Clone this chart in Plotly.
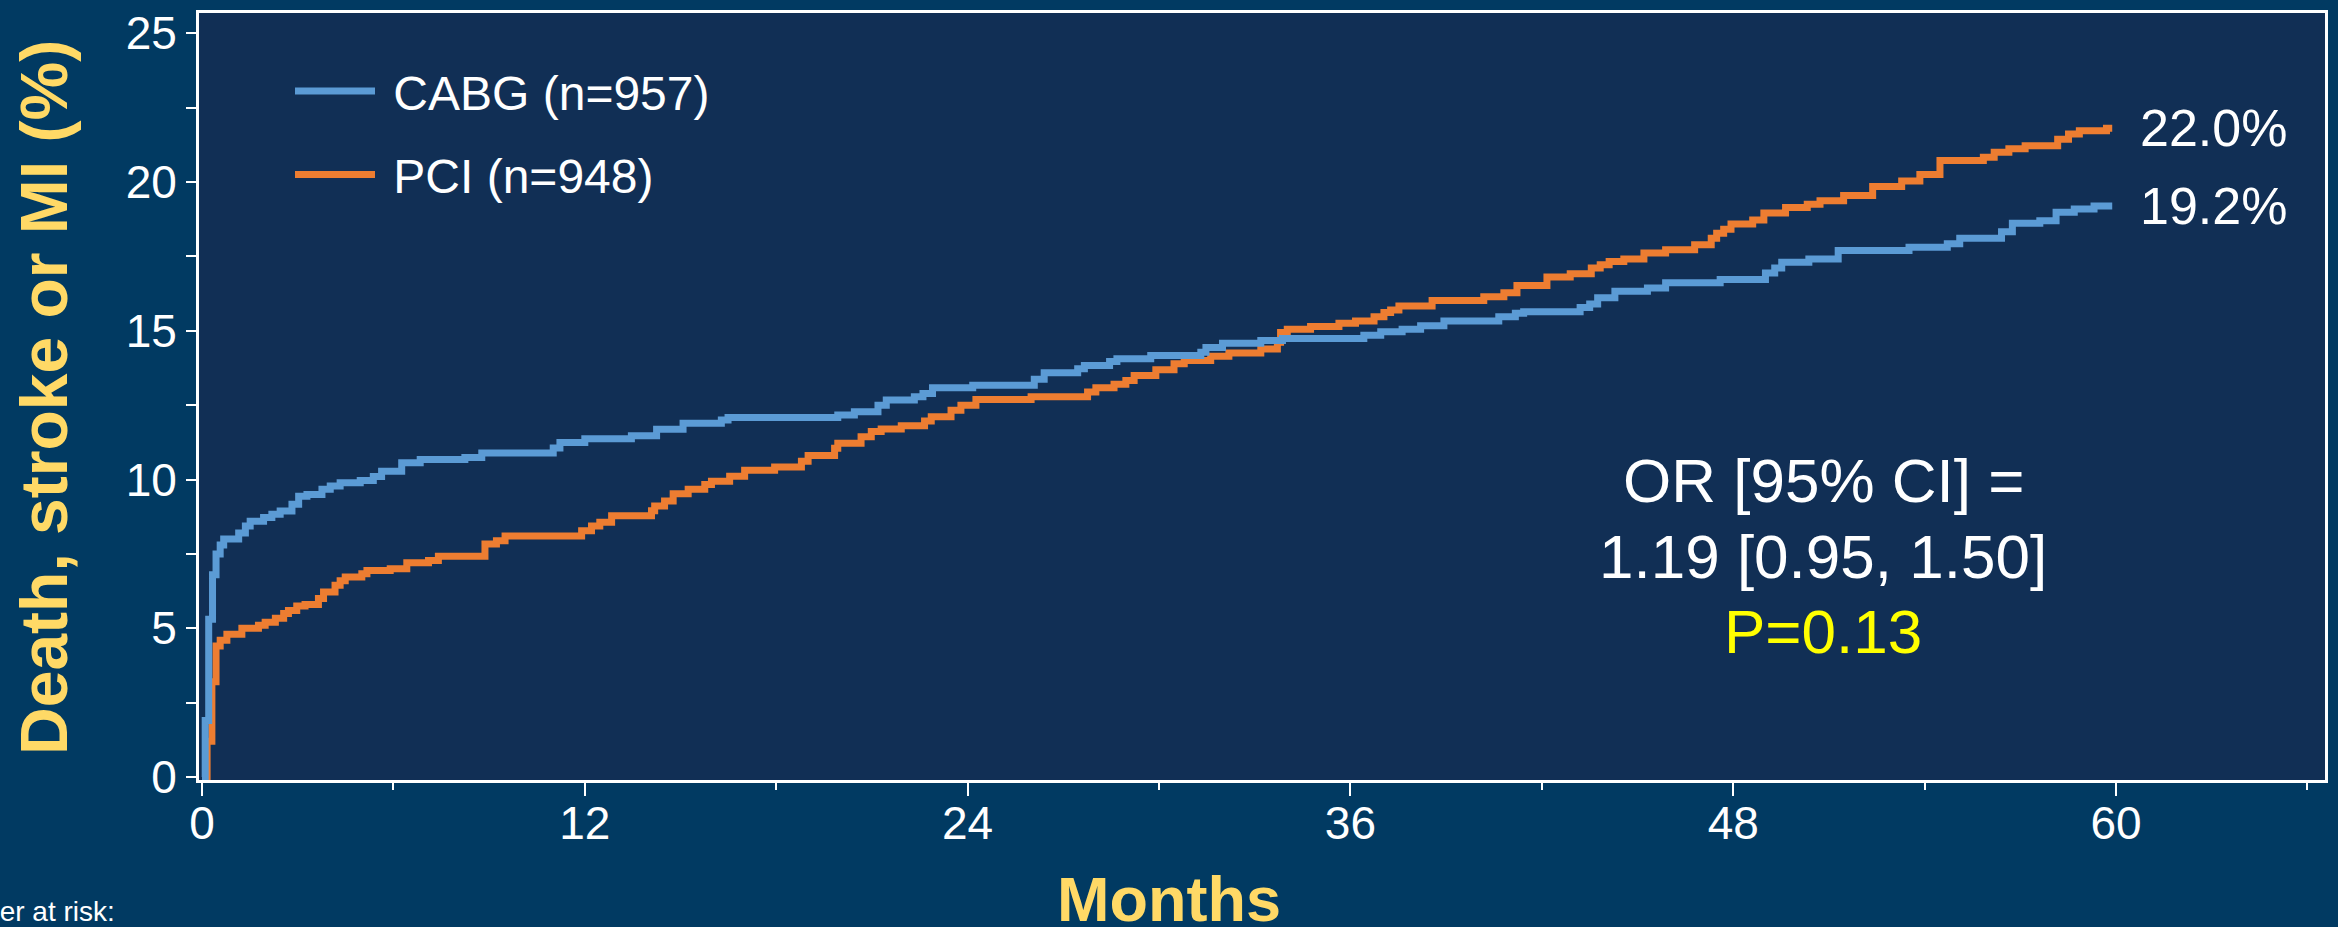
import plotly.graph_objects as go

# ---- data ----
cabg_months = [0, 0.10, 0.21, 0.33, 0.44, 0.57, 0.68, 1.15, 1.36, 1.51, 1.93, 2.19, 2.45, 2.82,
               3.03, 3.29, 3.76, 4.02, 4.33, 4.96, 5.37, 5.63, 6.26, 6.84, 8.24, 8.77, 11.01,
               11.22, 12.0, 13.46, 14.25, 15.08, 16.28, 16.49, 19.93, 20.45, 21.19, 21.45,
               22.33, 22.6, 22.9, 24.16, 26.09, 26.4, 27.45, 27.66, 28.45, 28.68, 29.74, 31.31,
               31.47, 31.99, 33.19, 33.87, 36.42, 36.95, 37.62, 38.2, 38.93, 40.65, 41.17,
               41.43, 43.2, 43.5, 43.75, 44.29, 45.31, 45.88, 47.59, 49.01, 49.3, 49.52, 50.37,
               51.29, 53.51, 54.71, 55.1, 56.41, 56.75, 57.61, 58.12, 58.69, 59.31, 59.88]
cabg_pct = [0, 1.9, 5.3, 6.8, 7.5, 7.8, 8.0, 8.2, 8.44, 8.6, 8.72, 8.83, 8.94, 9.17,
            9.44, 9.5, 9.67, 9.78, 9.89, 9.97, 10.1, 10.28, 10.56, 10.67, 10.74, 10.89, 11.06,
            11.24, 11.37, 11.47, 11.69, 11.89, 12.0, 12.08, 12.17, 12.28, 12.5, 12.67,
            12.78, 12.89, 13.08, 13.17, 13.37, 13.59, 13.72, 13.83, 13.97, 14.06, 14.17, 14.28,
            14.44, 14.58, 14.67, 14.74, 14.85, 14.97, 15.05, 15.17, 15.33, 15.47, 15.59,
            15.64, 15.78, 15.9, 16.11, 16.33, 16.44, 16.61, 16.72, 16.94, 17.11, 17.3, 17.41,
            17.7, 17.81, 17.92, 18.11, 18.33, 18.61, 18.7, 18.98, 19.09, 19.19, 19.19]

pci_months = [0, 0.16, 0.31, 0.44, 0.57, 0.78, 1.25, 1.77, 1.98, 2.30, 2.56, 2.71, 2.97, 3.23,
              3.65, 3.81, 4.17, 4.33, 4.49, 5.01, 5.17, 5.90, 6.42, 7.10, 7.41, 8.87, 9.23,
              9.50, 11.90, 12.21, 12.47, 12.84, 14.09, 14.19, 14.5, 14.77, 15.24, 15.76, 15.97,
              16.54, 17.01, 17.95, 18.79, 19.0, 19.83, 19.93, 20.66, 20.98, 21.29, 21.92, 22.65,
              22.86, 23.48, 23.79, 24.26, 25.99, 27.76, 28.02, 28.59, 28.96, 29.22, 29.9, 30.47,
              30.79, 31.62, 32.19, 33.19, 33.71, 33.81, 34.02, 34.75, 35.64, 36.16, 36.74,
              37.05, 37.26, 37.52, 38.56, 40.18, 40.81, 41.22, 42.16, 42.89, 43.55, 43.83,
              44.11, 44.57, 45.2, 45.88, 46.79, 47.31, 47.48, 47.7, 47.93, 48.61, 48.96, 49.64,
              50.32, 50.72, 51.46, 52.37, 53.28, 53.85, 54.48, 55.84, 56.18, 56.64, 57.15,
              58.17, 58.51, 58.85, 59.7, 59.88]
pci_pct = [0, 1.2, 3.2, 4.4, 4.6, 4.8, 5.0, 5.1, 5.2, 5.34, 5.5, 5.6, 5.75, 5.8,
           6.0, 6.22, 6.45, 6.6, 6.72, 6.83, 6.94, 7.0, 7.2, 7.28, 7.42, 7.83, 7.94,
           8.1, 8.28, 8.44, 8.56, 8.78, 8.95, 9.11, 9.28, 9.52, 9.67, 9.83, 9.94,
           10.11, 10.31, 10.42, 10.61, 10.81, 11.05, 11.22, 11.44, 11.61, 11.7, 11.81, 11.97,
           12.11, 12.33, 12.5, 12.69, 12.78, 12.94, 13.08, 13.2, 13.33, 13.5, 13.69, 13.89,
           14.0, 14.14, 14.25, 14.39, 14.61, 14.94, 15.05, 15.14, 15.25, 15.33, 15.47,
           15.61, 15.7, 15.83, 16.02, 16.14, 16.28, 16.52, 16.81, 16.92, 17.11, 17.22,
           17.33, 17.41, 17.61, 17.72, 17.89, 18.11, 18.28, 18.41, 18.59, 18.72, 18.96, 19.14,
           19.25, 19.37, 19.55, 19.85, 20.03, 20.25, 20.72, 20.83, 21.0, 21.12, 21.22,
           21.44, 21.61, 21.72, 21.81, 21.81]

series_names = ["CABG (n=957)", "PCI (n=948)"]
end_labels = ["19.2%", "22.0%"]
x_tickvals = [0, 12, 24, 36, 48, 60]
y_tickvals = [0, 5, 10, 15, 20, 25]
or_lines = ["OR [95% CI] =", "1.19 [0.95, 1.50]", "P=0.13"]

# ---- style ----
FONT = "Arial, Liberation Sans, sans-serif"
BLUE = "#5B9BD5"
ORANGE = "#ED7D31"
GOLD = "#FFD966"
PAPER = "#013A62"
PLOT = "#112F55"

fig = go.Figure()
fig.add_trace(go.Scatter(x=pci_months, y=pci_pct, mode="lines", name="\u00a0" + series_names[1],
                         line=dict(color=ORANGE, width=7, shape="hv"), legend="legend2"))
fig.add_trace(go.Scatter(x=cabg_months, y=cabg_pct, mode="lines", name="\u00a0" + series_names[0],
                         line=dict(color=BLUE, width=7, shape="hv"), legend="legend"))

W, H = 2338, 927
L, R, T, B = 199, 13, 7, 147
pw, ph = W - L - R, H - T - B

def px(xp):
    return (xp - L) / pw

def py(yp):
    return (H - B - yp) / ph

leg_common = dict(xanchor="left", yanchor="middle", bgcolor="rgba(0,0,0,0)",
                  font=dict(family=FONT, size=48, color="white"), itemwidth=80,
                  borderwidth=0)

fig.update_layout(
    width=W, height=H,
    margin=dict(l=L, r=R, t=T, b=B, pad=0),
    paper_bgcolor=PAPER, plot_bgcolor=PLOT,
    font=dict(family=FONT, color="white"),
    showlegend=True,
    legend=dict(x=px(290), y=py(86), **leg_common),
    legend2=dict(x=px(290), y=py(170), **leg_common),
    xaxis=dict(range=[-0.094, 66.55], tickvals=x_tickvals, ticks="outside", ticklen=13,
               tickwidth=2, tickcolor="white", showline=True, linecolor="white", linewidth=3,
               mirror=True, showgrid=False, zeroline=False, ticklabelstandoff=-12,
               tickfont=dict(family=FONT, size=46, color="white"),
               minor=dict(dtick=6, ticks="outside", ticklen=7, tickwidth=2, tickcolor="white")),
    yaxis=dict(range=[-0.1, 25.68], tickvals=y_tickvals, ticks="outside", ticklen=10,
               tickwidth=2, tickcolor="white", showline=True, linecolor="white", linewidth=3,
               mirror=True, showgrid=False, zeroline=False,
               tickfont=dict(family=FONT, size=46, color="white"),
               minor=dict(dtick=2.5, ticks="outside", ticklen=10, tickwidth=2, tickcolor="white")),
)

ann = []
# axis titles
ann.append(dict(text="<b>Death, stroke or MI (%)</b>", xref="paper", yref="paper",
                x=px(44), y=py(395), xanchor="center", yanchor="middle", textangle=-90,
                showarrow=False, font=dict(family=FONT, size=66, color=GOLD)))
ann.append(dict(text="<b>Months</b>", xref="paper", yref="paper",
                x=px(1169), y=py(900), xanchor="center", yanchor="middle",
                showarrow=False, font=dict(family=FONT, size=63, color=GOLD)))
# end labels
for xs, ys, lab in [(cabg_months, cabg_pct, end_labels[0]), (pci_months, pci_pct, end_labels[1])]:
    ann.append(dict(text=lab, xref="x", yref="y", x=xs[-1], y=ys[-1], xanchor="left",
                    yanchor="middle", xshift=26, showarrow=False,
                    font=dict(family=FONT, size=52, color="white")))
# OR text
for txt, yc, col in zip(or_lines, [478, 555, 630], ["white", "white", "#FFFF00"]):
    ann.append(dict(text=txt, xref="paper", yref="paper", x=px(1823), y=py(yc),
                    xanchor="center", yanchor="middle", showarrow=False,
                    font=dict(family=FONT, size=62, color=col)))
# number at risk (cut off in the original)
ann.append(dict(text="Number at risk:", xref="paper", yref="paper", x=px(117), y=py(913),
                xanchor="right", yanchor="middle", showarrow=False,
                font=dict(family=FONT, size=28, color="#FFFFFF")))
fig.update_layout(annotations=ann)

fig.write_html("out.html", config={"displayModeBar": False},
               post_script="document.body.style.margin='0';")
